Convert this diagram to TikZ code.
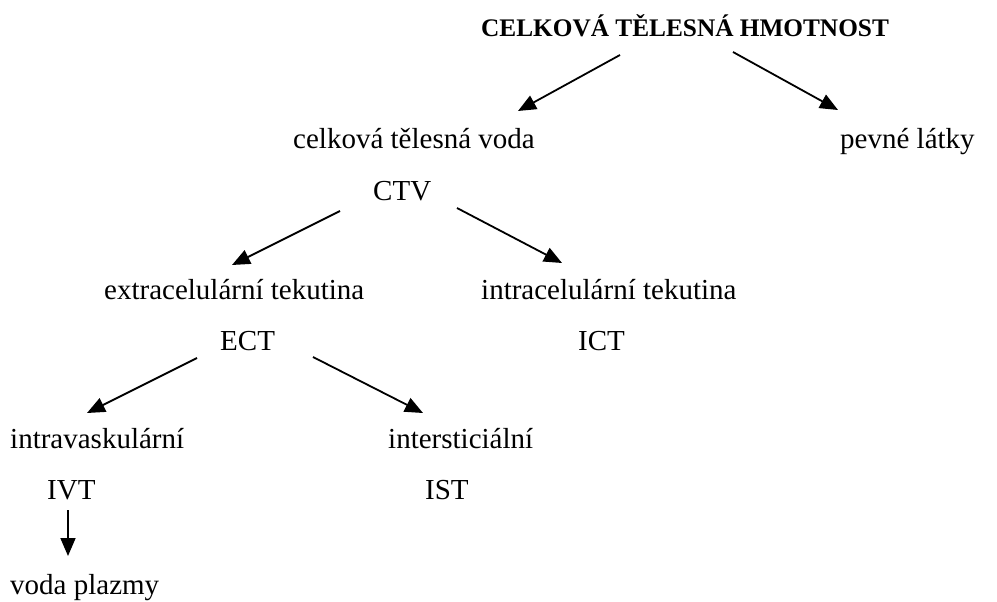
\documentclass[tikz,border=0pt]{standalone}
\usepackage{fontspec}
\setmainfont{Liberation Serif}
\usetikzlibrary{arrows.meta}
\tikzset{
  lbl/.style={anchor=base west, inner sep=0pt, font=\fontsize{29}{34}\selectfont},
  ttl/.style={anchor=base west, inner sep=0pt, font=\fontsize{25.3}{30}\selectfont\bfseries},
  arr/.style={line width=1.8pt, -{Triangle[length=18pt,width=15pt]}}
}
\begin{document}
\begin{tikzpicture}[x=1pt,y=-1pt]
\useasboundingbox (0,0) rectangle (997,602);
\node[ttl] (title) at (481,37) {CELKOVÁ TĚLESNÁ HMOTNOST};
\node[lbl] (ctv) at (293,149) {celková tělesná voda};
\node[lbl] (pev) at (840,149) {pevné látky};
\node[lbl] (ctvab) at (373,200) {CTV};
\node[lbl] (ect) at (104,299) {extracelulární tekutina};
\node[lbl] (ectab) at (220,350) {ECT};
\node[lbl] (ict) at (481,299) {intracelulární tekutina};
\node[lbl] (ictab) at (578,350) {ICT};
\node[lbl] (ivt) at (10,448) {intravaskulární};
\node[lbl] (ivtab) at (47,499) {IVT};
\node[lbl] (ist) at (388,448) {intersticiální};
\node[lbl] (istab) at (425,499) {IST};
\node[lbl] (vp) at (10,594) {voda plazmy};
% connector ends
\coordinate (t1) at (620,55);  \coordinate (h1) at (518,111);
\coordinate (t2) at (733,52);  \coordinate (h2) at (838,110);
\coordinate (t3) at (340,211); \coordinate (h3) at (232,265);
\coordinate (t4) at (457,208); \coordinate (h4) at (562,263);
\coordinate (t5) at (197,358); \coordinate (h5) at (87,413);
\coordinate (t6) at (313,357); \coordinate (h6) at (423,413);
\coordinate (t7) at (68,510);  \coordinate (h7) at (68,556);
\draw[arr] (t1) -- (h1);
\draw[arr] (t2) -- (h2);
\draw[arr] (t3) -- (h3);
\draw[arr] (t4) -- (h4);
\draw[arr] (t5) -- (h5);
\draw[arr] (t6) -- (h6);
\draw[arr] (t7) -- (h7);
\end{tikzpicture}
\end{document}
